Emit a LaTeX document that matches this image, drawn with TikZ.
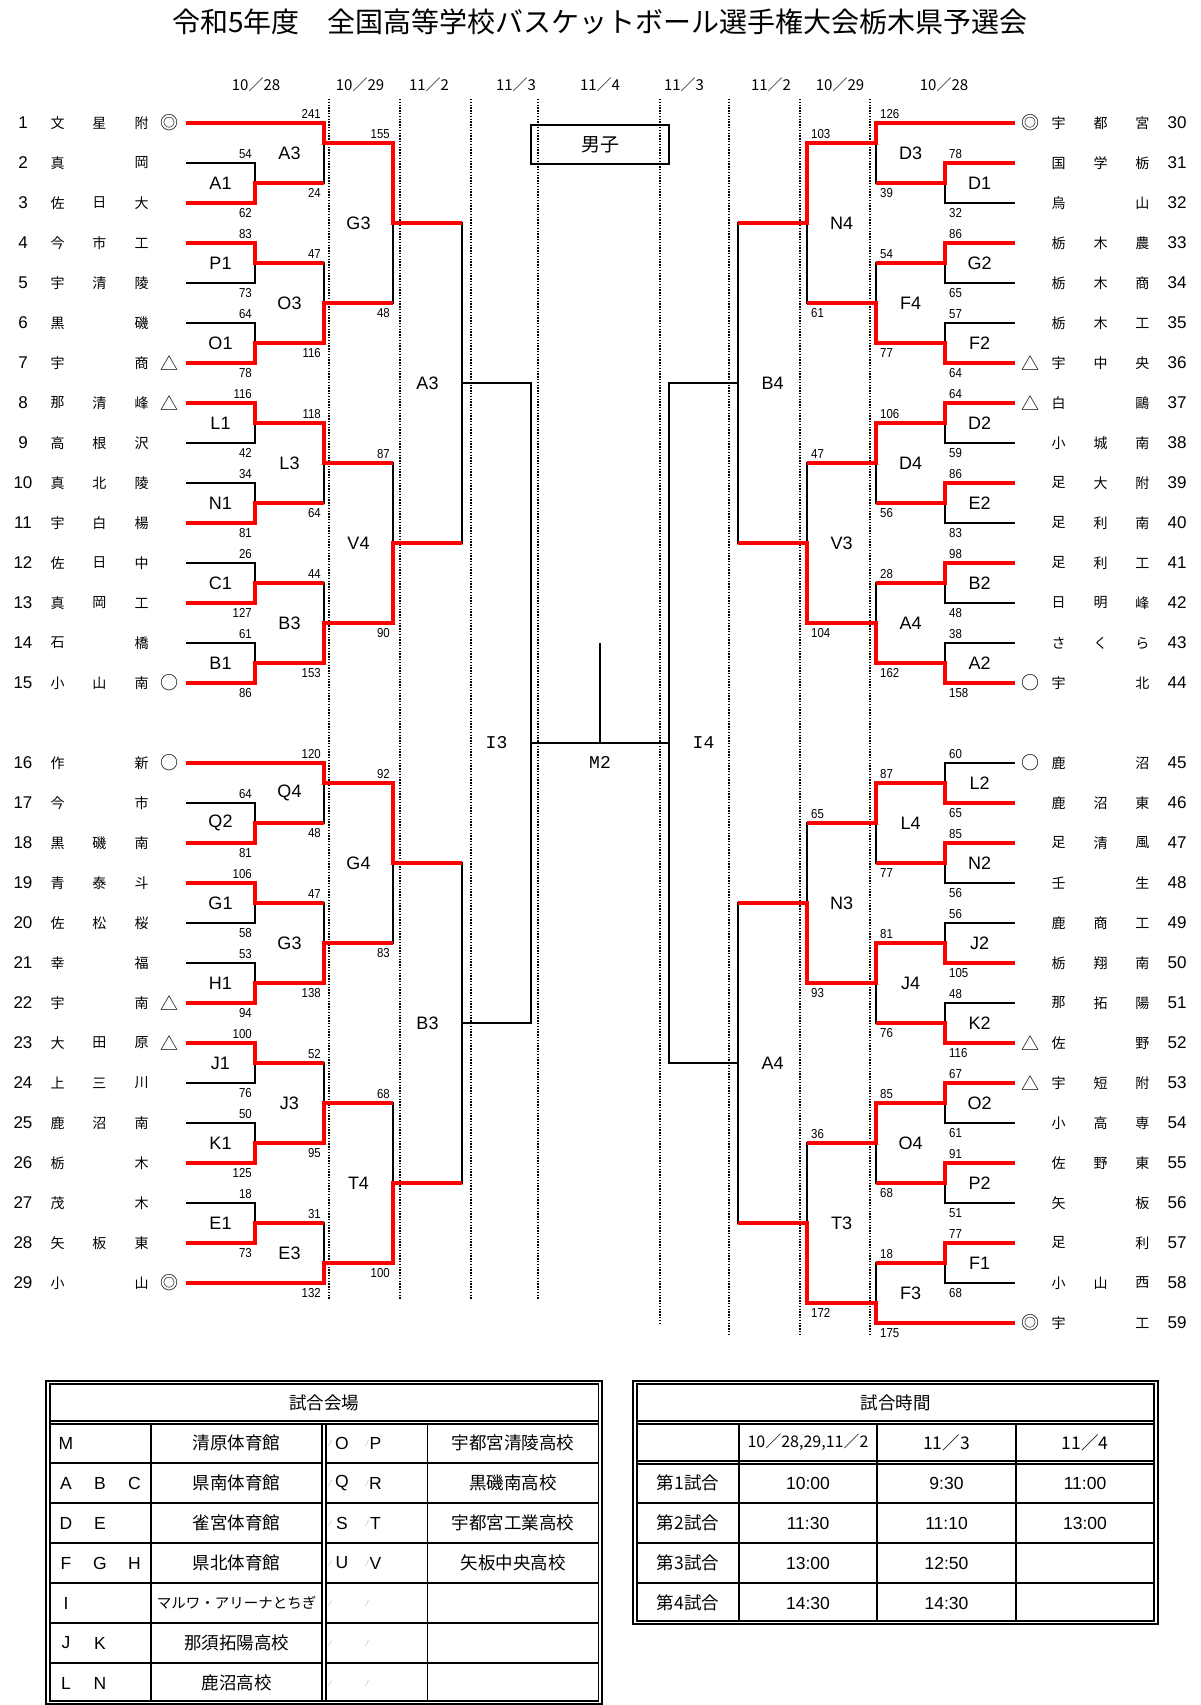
\documentclass[tikz,border=0pt]{standalone}
\usepackage{fontspec}
\setmainfont{Liberation Sans}
\setmonofont{Liberation Mono}
\newfontfamily\jp{Noto Sans CJK JP}
\newfontfamily\narrow[FakeStretch=0.88]{Liberation Sans}
\usetikzlibrary{calc,positioning}
\tikzstyle{bracket} = [draw, line width=1.6pt]
\tikzstyle{winner} = [draw, red, line width=3.3pt]
\tikzstyle{tbl} = [draw, line width=1.3pt]

% match / label / top in / bottom in / winner in / next match / top score / bottom score
\newcommand\lbouts{A1/A1/t2/t3/t3/A3/54/62, A3/A3/t1/A1/t1/G3/241/24,
  P1/P1/t4/t5/t4/O3/83/73, O1/O1/t6/t7/t7/O3/64/78, O3/O3/P1/O1/O1/G3/47/116,
  G3/G3/A3/O3/A3/A3b/155/48, L1/L1/t8/t9/t8/L3/116/42, N1/N1/t10/t11/t11/L3/34/81,
  L3/L3/L1/N1/L1/V4/118/64, C1/C1/t12/t13/t13/B3/26/127, B1/B1/t14/t15/t15/B3/61/86,
  B3/B3/C1/B1/B1/V4/44/153, V4/V4/L3/B3/B3/A3b/87/90, Q2/Q2/t17/t18/t18/Q4/64/81,
  Q4/Q4/t16/Q2/t16/G4/120/48, G1/G1/t19/t20/t19/G3b/106/58, H1/H1/t21/t22/t22/G3b/53/94,
  G3b/G3/G1/H1/H1/G4/47/138, G4/G4/Q4/G3b/Q4/B3b/92/83, J1/J1/t23/t24/t23/J3/100/76,
  K1/K1/t25/t26/t26/J3/50/125, J3/J3/J1/K1/K1/T4/52/95, E1/E1/t27/t28/t28/E3/18/73,
  E3/E3/E1/t29/t29/T4/31/132, T4/T4/J3/E3/E3/B3b/68/100}
\newcommand\rbouts{D1/D1/t31/t32/t31/D3/78/32, D3/D3/t30/D1/t30/N4/126/39,
  G2/G2/t33/t34/t33/F4/86/65, F2/F2/t35/t36/t36/F4/57/64, F4/F4/G2/F2/F2/N4/54/77,
  N4/N4/D3/F4/D3/B4/103/61, D2/D2/t37/t38/t37/D4/64/59, E2/E2/t39/t40/t39/D4/86/83,
  D4/D4/D2/E2/D2/V3/106/56, B2/B2/t41/t42/t41/A4/98/48, A2/A2/t43/t44/t44/A4/38/158,
  A4/A4/B2/A2/A2/V3/28/162, V3/V3/D4/A4/A4/B4/47/104, L2/L2/t45/t46/t46/L4/60/65,
  N2/N2/t47/t48/t47/L4/85/56, L4/L4/L2/N2/L2/N3/87/77, J2/J2/t49/t50/t50/J4/56/105,
  K2/K2/t51/t52/t52/J4/48/116, J4/J4/J2/K2/J2/N3/81/76, N3/N3/L4/J4/J4/A4b/65/93,
  O2/O2/t53/t54/t53/O4/67/61, P2/P2/t55/t56/t55/O4/91/51, O4/O4/O2/P2/O2/T3/85/68,
  F1/F1/t57/t58/t57/F3/77/68, F3/F3/F1/t59/t59/T3/18/175, T3/T3/O4/F3/F3/A4b/36/172}

\begin{document}
\begin{tikzpicture}[x=1pt, y=-1pt,
    every node/.style={inner sep=1pt},
    rownum/.style={font=\fontsize{17}{17}\selectfont},
    kanji/.style={font=\jp\fontsize{14}{14}\selectfont},
    sign/.style={font=\jp\fontsize{18}{18}\selectfont},
    date/.style={font=\jp\fontsize{15}{15}\selectfont},
    score/.style={font=\narrow\fontsize{13}{13}\selectfont},
    bout/.style={font=\fontsize{18}{18}\selectfont},
    final/.style={font=\ttfamily\fontsize{18}{18}\selectfont},
    dotline/.style={line width=1.2pt, dash pattern=on 1.4pt off 1.4pt},
    tj/.style={font=\jp\fontsize{17.5}{17.5}\selectfont},
    tl/.style={font=\fontsize{17.5}{17.5}\selectfont}
  ]
  \useasboundingbox (0,0) rectangle (1200,1705);
  \fill[white] (0,0) rectangle (1200,1705);

  \node[font=\jp\fontsize{28}{28}\selectfont] (title) at (600,22)
    {令和5年度　全国高等学校バスケットボール選手権大会栃木県予選会};
  \foreach \x/\d [count=\k] in {256/10／28, 360/10／29, 429/11／2, 516/11／3, 600/11／4,
      684/11／3, 771/11／2, 840/10／29, 944/10／28}
    \node[date] (day\k) at (\x,85) {\d};

  % day columns
  \foreach \x/\yb in {329/1300, 400/1300, 471/1300, 538/1300,
      660/1325, 729/1335, 800/1335, 870/1335}
    \draw[dotline] (\x,99) -- (\x,\yb);

  % teams, left
  \foreach \n/\a/\b/\cc/\mk [count=\k] in {1/文/星/附/◎, 2/真/{}/岡/{}, 3/佐/日/大/{},
      4/今/市/工/{}, 5/宇/清/陵/{}, 6/黒/{}/磯/{}, 7/宇/{}/商/△, 8/那/清/峰/△,
      9/高/根/沢/{}, 10/真/北/陵/{}, 11/宇/白/楊/{}, 12/佐/日/中/{}, 13/真/岡/工/{},
      14/石/{}/橋/{}, 15/小/山/南/○, 16/作/{}/新/○, 17/今/{}/市/{}, 18/黒/磯/南/{},
      19/青/泰/斗/{}, 20/佐/松/桜/{}, 21/幸/{}/福/{}, 22/宇/{}/南/△, 23/大/田/原/△,
      24/上/三/川/{}, 25/鹿/沼/南/{}, 26/栃/{}/木/{}, 27/茂/{}/木/{}, 28/矢/板/東/{},
      29/小/{}/山/◎} {
    \pgfmathsetmacro\yy{123+40*(\k-1)+40*(\k>15)}
    \coordinate (t\n) at (185.5,\yy);
    \node[rownum] (num\n) at (23,\yy) {\n};
    \node[kanji] (na\n) at (57.7,\yy) {\a};
    \node[kanji] (nb\n) at (99.3,\yy) {\b};
    \node[kanji] (nc\n) at (141.7,\yy) {\cc};
    \node[sign] (mk\n) at (169.3,\yy) {\mk};
  }
  % teams, right
  \foreach \n/\a/\b/\cc/\mk [count=\k] in {30/宇/都/宮/◎, 31/国/学/栃/{}, 32/烏/{}/山/{},
      33/栃/木/農/{}, 34/栃/木/商/{}, 35/栃/木/工/{}, 36/宇/中/央/△, 37/白/{}/鷗/△,
      38/小/城/南/{}, 39/足/大/附/{}, 40/足/利/南/{}, 41/足/利/工/{}, 42/日/明/峰/{},
      43/さ/く/ら/{}, 44/宇/{}/北/○, 45/鹿/{}/沼/○, 46/鹿/沼/東/{}, 47/足/清/風/{},
      48/壬/{}/生/{}, 49/鹿/商/工/{}, 50/栃/翔/南/{}, 51/那/拓/陽/{}, 52/佐/{}/野/△,
      53/宇/短/附/△, 54/小/高/専/{}, 55/佐/野/東/{}, 56/矢/{}/板/{}, 57/足/{}/利/{},
      58/小/山/西/{}, 59/宇/{}/工/◎} {
    \pgfmathsetmacro\yy{123+40*(\k-1)+40*(\k>15)}
    \coordinate (t\n) at (1014.5,\yy);
    \node[rownum] (num\n) at (1177,\yy) {\n};
    \node[kanji] (na\n) at (1058.5,\yy) {\a};
    \node[kanji] (nb\n) at (1100.7,\yy) {\b};
    \node[kanji] (nc\n) at (1142.3,\yy) {\cc};
    \node[sign] (mk\n) at (1030.7,\yy) {\mk};
  }

  % match points
  \foreach \m/\x/\y in {A1/255/183, A3/324/143, P1/255/263, O1/255/343, O3/324/303,
      G3/393/223, L1/255/423, N1/255/503, L3/324/463, C1/255/583, B1/255/663,
      B3/324/623, V4/393/543, Q2/255/823, Q4/324/783, G1/255/903, H1/255/983,
      G3b/324/943, G4/393/863, J1/255/1063, K1/255/1143, J3/324/1103, E1/255/1223,
      E3/324/1263, T4/393/1183, A3b/462/383, B3b/462/1023, I3/531/743,
      D1/945/183, D3/876/143, G2/945/263, F2/945/343, F4/876/303, N4/807/223,
      D2/945/423, E2/945/503, D4/876/463, B2/945/583, A2/945/663, A4/876/623,
      V3/807/543, B4/738/383, L2/945/783, N2/945/863, L4/876/823, J2/945/943,
      K2/945/1023, J4/876/983, N3/807/903, O2/945/1103, P2/945/1183, O4/876/1143,
      F1/945/1263, F3/876/1303, T3/807/1223, A4b/738/1063, I4/669/743}
    \coordinate (\m) at (\x,\y);
  \coordinate (M2) at (600,643);

  % brackets
  \foreach \m/\lab/\ta/\tb/\w/\nx/\sca/\scb in \lbouts
    \draw[bracket] (\ta) -- (\ta -| \m) -- (\tb -| \m) -- (\tb);
  \foreach \m/\lab/\ta/\tb/\w/\nx/\sca/\scb in \rbouts
    \draw[bracket] (\ta) -- (\ta -| \m) -- (\tb -| \m) -- (\tb);
  \foreach \m/\lab/\ta/\tb/\dx in {A3b/A3/G3/V4/-34.5, B3b/B3/G4/T4/-34.5,
      B4/B4/N4/V3/34.5, A4b/A4/N3/T3/34.5} {
    \draw[bracket] (\ta) -- (\ta -| \m) -- (\tb -| \m) -- (\tb);
    \node[bout] (lb-\m) at ($(\ta -| \m)!0.5!(\tb -| \m)+(\dx,0)$) {\lab};
  }
  \draw[bracket] (A3b) -- (A3b -| I3) -- (B3b -| I3) -- (B3b);
  \draw[bracket] (B4) -- (B4 -| I4) -- (A4b -| I4) -- (A4b);
  \draw[bracket] (I3) -- (I4);
  \draw[bracket] (M2) -- (M2 |- I3);

  % winners
  \foreach \m/\lab/\ta/\tb/\w/\nx/\sca/\scb in \lbouts
    \draw[winner] (\w) -- (\w -| \m) -- (\m) -- (\m -| \nx);
  \foreach \m/\lab/\ta/\tb/\w/\nx/\sca/\scb in \rbouts
    \draw[winner] (\w) -- (\w -| \m) -- (\m) -- (\m -| \nx);

  % scores and match names
  \foreach \m/\lab/\ta/\tb/\w/\nx/\sca/\scb in \lbouts {
    \node[score, anchor=south east] (sa-\m) at ($(\ta -| \m)+(-2,-3)$) {\sca};
    \node[score, anchor=north east] (sb-\m) at ($(\tb -| \m)+(-2,4)$) {\scb};
    \node[bout] (lb-\m) at ($(\ta -| \m)!0.5!(\tb -| \m)+(-34.5,0)$) {\lab};
  }
  \foreach \m/\lab/\ta/\tb/\w/\nx/\sca/\scb in \rbouts {
    \node[score, anchor=south west] (sa-\m) at ($(\ta -| \m)+(3,-3)$) {\sca};
    \node[score, anchor=north west] (sb-\m) at ($(\tb -| \m)+(3,4)$) {\scb};
    \node[bout] (lb-\m) at ($(\ta -| \m)!0.5!(\tb -| \m)+(34.5,0)$) {\lab};
  }
  \node[final] (lb-I3) at (496.5,743) {I3};
  \node[final] (lb-I4) at (703.5,743) {I4};
  \node[final] (lb-M2) at (600,762) {M2};
  \node[draw, line width=1.4pt, minimum width=138pt, minimum height=39pt,
    font=\jp\fontsize{19}{19}\selectfont] (boys) at (600,144.5) {男子};

  % venue table
  \draw[tbl] (46,1381) rectangle (602,1704);
  \draw[tbl] (50,1384) rectangle (598.5,1701);
  \draw[tbl] (50,1421) -- (598.5,1421);
  \draw[tbl] (50,1424) -- (598.5,1424);
  \foreach \x in {151,322,326,427.5}
    \draw[tbl] (\x,1424) -- (\x,1701);
  \foreach \y in {1463,1503,1543,1583,1623,1663} {
    \draw[tbl] (50,\y) -- (322,\y);
    \draw[tbl] (326,\y) -- (598.5,\y);
  }
  \node[tj] (hall) at (324,1402.5) {試合会場};
  \foreach \a/\b/\cc/\v/\p/\q/\s [count=\k] in {M/{}/{}/清原体育館/O/P/宇都宮清陵高校,
      A/B/C/県南体育館/Q/R/黒磯南高校, D/E/{}/雀宮体育館/S/T/宇都宮工業高校,
      F/G/H/県北体育館/U/V/矢板中央高校, I/{}/{}/{}/{}/{}/{}, J/K/{}/那須拓陽高校/{}/{}/{},
      L/N/{}/鹿沼高校/{}/{}/{}} {
    \pgfmathsetmacro\yy{1443+40*(\k-1)}
    \node[tl] (ca\k) at (66,\yy) {\a};
    \node[tl] (cb\k) at (100,\yy) {\b};
    \node[tl] (cc\k) at (134.4,\yy) {\cc};
    \node[tj] (hv\k) at (236.5,\yy) {\v};
    \node[tl] (cp\k) at (342,\yy) {\p};
    \node[tl] (cq\k) at (375.5,\yy) {\q};
    \node[tj] (hs\k) at (513,\yy) {\s};
    \foreach \x in {330,367}
      \draw[gray!45, line width=0.6pt] (\x-1.5,\yy+3) -- (\x+1.5,\yy-3);
  }
  \node[tj, font=\jp\fontsize{14.5}{14.5}\selectfont] (arena) at (236.5,1603) {マルワ・アリーナとちぎ};

  % time table
  \draw[tbl] (633,1381) rectangle (1158,1624);
  \draw[tbl] (637,1384) rectangle (1154,1621);
  \foreach \y in {1421,1424,1461,1464,1503,1543,1583}
    \draw[tbl] (637,\y) -- (1154,\y);
  \foreach \x in {739,877,1016}
    \draw[tbl] (\x,1424) -- (\x,1621);
  \node[tj] (hours) at (895.5,1402.5) {試合時間};
  \node[tj, font=\jp\fontsize{16}{16}\selectfont] (h1) at (808,1442.5) {10／28,29,11／2};
  \node[tj] (h2) at (946.5,1442.5) {11／3};
  \node[tj] (h3) at (1085,1442.5) {11／4};
  \foreach \g/\u/\v/\w [count=\k] in {第1試合/10:00/9:30/11:00, 第2試合/11:30/11:10/13:00,
      第3試合/13:00/12:50/{}, 第4試合/14:30/14:30/{}} {
    \pgfmathsetmacro\yy{1483+40*(\k-1)}
    \node[tj] (g\k) at (688,\yy) {\g};
    \node[tl] (ga\k) at (808,\yy) {\u};
    \node[tl] (gb\k) at (946.5,\yy) {\v};
    \node[tl] (gc\k) at (1085,\yy) {\w};
  }
\end{tikzpicture}
\end{document}
